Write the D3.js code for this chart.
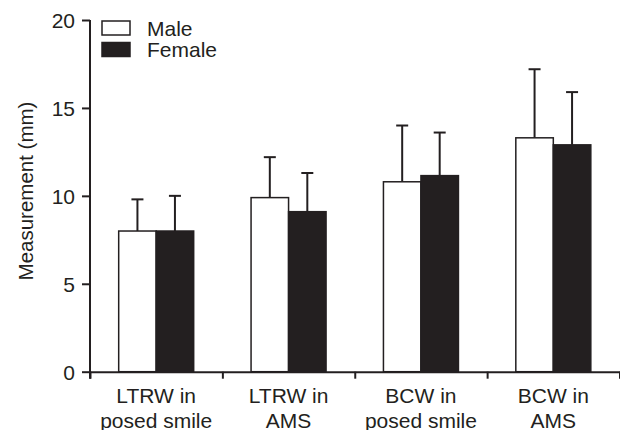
<!DOCTYPE html>
<html><head><meta charset="utf-8">
<script src="https://cdn.jsdelivr.net/npm/d3@7"></script>
<style>
html,body{margin:0;padding:0;background:#fff;}
text{font-family:"Liberation Sans",Arial,Helvetica,sans-serif;fill:#231f20;}
</style></head>
<body><svg id="c" width="620" height="430"></svg>
<script>
const categories = [["LTRW in","posed smile"],["LTRW in","AMS"],["BCW in","posed smile"],["BCW in","AMS"]];
const series = ["Male","Female"];
const maleMean = [8.0, 9.9, 10.8, 13.3];
const maleSD = [1.8, 2.3, 3.2, 3.9];
const femaleMean = [8.0, 9.1, 11.15, 12.9];
const femaleSD = [2.0, 2.2, 2.45, 3.0];
const yTicks = [0,5,10,15,20];

const ink = "#231f20";
const svg = d3.select("#c");
const L = 90, R = 619.5, T = 20, B = 371.7;
const keys = categories.map((c,i)=>"c"+i);
const x = d3.scaleBand().domain(keys).range([L,R]).padding(0);
const xEdge = d3.scaleLinear().domain([0,categories.length]).range([L,R]);
const y = d3.scaleLinear().domain([0,20]).range([B,T]);
const pairW = 75;
const xs = d3.scaleBand().domain(series).range([0,pairW]).padding(0);

const data = [];
keys.forEach((k,i)=>{
  data.push({k, s:"Male", v:maleMean[i], e:maleSD[i]});
  data.push({k, s:"Female", v:femaleMean[i], e:femaleSD[i]});
});
const bx = d => x(d.k) + x.bandwidth()/2 - pairW/2 + xs(d.s);

// error bars (behind bars)
const eb = svg.append("g").attr("stroke",ink).attr("stroke-width",2);
data.forEach(d=>{
  const cx = bx(d) + xs.bandwidth()/2;
  eb.append("line").attr("x1",cx).attr("x2",cx).attr("y1",y(d.v)).attr("y2",y(d.v+d.e));
  eb.append("line").attr("x1",cx-6).attr("x2",cx+6).attr("y1",y(d.v+d.e)).attr("y2",y(d.v+d.e));
});

svg.append("g").selectAll("rect").data(data).join("rect")
  .attr("x",d=>bx(d)).attr("width",xs.bandwidth())
  .attr("y",d=>y(d.v)).attr("height",d=>y(0)-y(d.v))
  .attr("fill",d=>d.s==="Male"?"#fff":ink)
  .attr("stroke",ink).attr("stroke-width",1.5);

// y axis
const ya = svg.append("g").attr("transform",`translate(${L},0)`)
  .call(d3.axisLeft(y).tickValues(yTicks).tickSize(8).tickSizeOuter(0).tickPadding(7));
ya.selectAll("text").style("font-size","21px").attr("dy","0.36em");
ya.selectAll("line,path").attr("stroke",ink).attr("stroke-width",2);
ya.select(".domain").attr("d",`M0,${T}V${B+7}`);

// x axis
const xa = svg.append("g").attr("transform",`translate(0,${B})`)
  .call(d3.axisBottom(xEdge).tickValues(d3.range(categories.length+1)).tickFormat("").tickSize(7).tickSizeOuter(0));
xa.selectAll("line,path").attr("stroke",ink).attr("stroke-width",2);

const lab = svg.append("g");
keys.forEach((k,i)=>{
  const t = lab.append("text").attr("text-anchor","middle").style("font-size","21px")
    .attr("x",x(k)+x.bandwidth()/2).attr("y",403);
  categories[i].forEach((ln,j)=>{
    t.append("tspan").attr("x",x(k)+x.bandwidth()/2).attr("dy",j===0?0:24.5).text(ln);
  });
});

// y label
svg.append("text").attr("transform",`translate(33,191) rotate(-90)`)
  .attr("text-anchor","middle").style("font-size","20.5px").text("Measurement (mm)");

// legend
const lg = svg.append("g");
series.forEach((s,i)=>{
  lg.append("rect").attr("x",102).attr("y",21+i*21.5).attr("width",28).attr("height",14)
    .attr("fill",s==="Male"?"#fff":ink).attr("stroke",ink).attr("stroke-width",1.5);
  lg.append("text").attr("x",147).attr("y",36+i*20.7).style("font-size","21px").text(s);
});
</script></body></html>
